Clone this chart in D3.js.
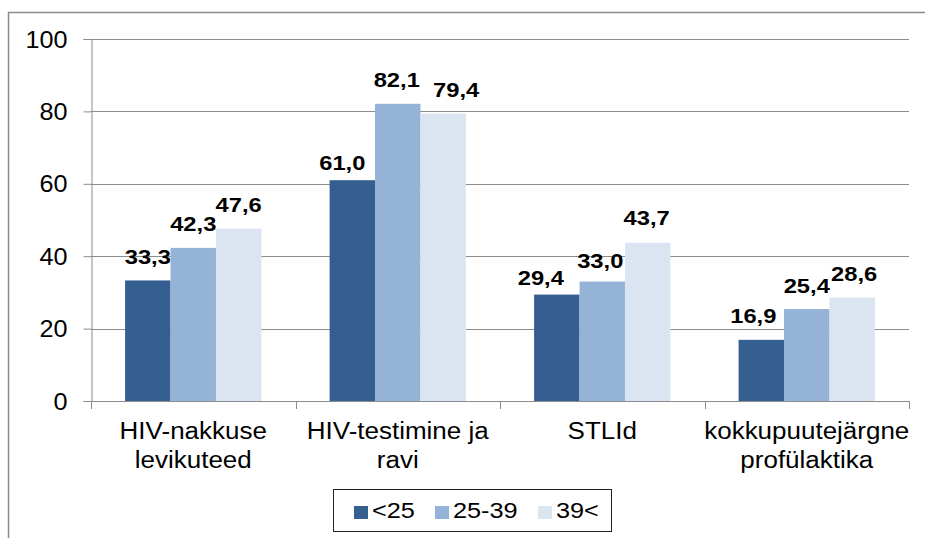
<!DOCTYPE html>
<html><head><meta charset="utf-8">
<script src="https://cdn.jsdelivr.net/npm/d3@7"></script>
<style>
html,body{margin:0;padding:0;background:#fff;}
svg{display:block;font-family:"Liberation Sans",Arial,sans-serif;}
</style></head>
<body><svg id="c" width="925" height="538"></svg>
<script>
const categories = [["HIV-nakkuse","levikuteed"],["HIV-testimine ja","ravi"],["STLId"],["kokkupuutejärgne","profülaktika"]];
const seriesNames = ["<25","25-39","39<"];
const valuesU25 = [33.3, 61.0, 29.4, 16.9];
const values2539 = [42.3, 82.1, 33.0, 25.4];
const values39 = [47.6, 79.4, 43.7, 28.6];
const yTicks = [0,20,40,60,80,100];
const colors = ["#365F91","#95B3D7","#DBE5F1"];
// manual label nudges (as placed in the original chart)
const labelDx = [[0,-10,-16,-8],[0,-1,-2,0],[0,13,-1,2]];
const labelDy = [[0,6,7,0],[0,0,3,0],[0,0,-1,0]];

const series = [valuesU25, values2539, values39];
const svg = d3.select("#c");

// outer border
svg.append("rect").attr("x",8.5).attr("y",12.5).attr("width",940).attr("height",540)
  .attr("fill","none").attr("stroke","#8a8a8a").attr("stroke-width",1.5);

const x0 = 91, x1 = 909, yTop = 39, yBot = 401;
const y = d3.scaleLinear().domain([0,100]).range([yBot,yTop]);
const xb = d3.scaleBand().domain(d3.range(categories.length)).range([x0,x1]).paddingInner(0).paddingOuter(0);
const inner = d3.scaleBand().domain(d3.range(3)).range([xb.bandwidth()/6, xb.bandwidth()*5/6]).padding(0);

// gridlines
svg.append("g").selectAll("line").data(yTicks).join("line")
  .attr("x1",x0).attr("x2",x1).attr("y1",d=>Math.round(y(d))+0.5).attr("y2",d=>Math.round(y(d))+0.5)
  .attr("stroke","#8c8c8c").attr("stroke-width",1);

// y axis
const ya = svg.append("g").attr("transform",`translate(${x0+0.5},0)`)
  .call(d3.axisLeft(y).tickValues(yTicks).tickSize(8).tickPadding(0).tickFormat(d3.format("d")));
ya.select(".domain").attr("stroke","#8c8c8c");
ya.selectAll(".tick line").attr("stroke","#8c8c8c");
ya.selectAll(".tick text").attr("x",null).attr("dy",null)
  .attr("transform","translate(-24,8) scale(1.05,1)")
  .attr("font-size",24).attr("fill","#000").attr("font-family","Liberation Sans, Arial, sans-serif");

// x axis ticks at band boundaries
const bounds = d3.range(categories.length+1).map(i=> i<categories.length ? xb(i) : x1);
svg.append("g").selectAll("line").data(bounds).join("line")
  .attr("x1",d=>Math.round(d)+0.5).attr("x2",d=>Math.round(d)+0.5).attr("y1",yBot).attr("y2",yBot+8)
  .attr("stroke","#8c8c8c");

// bars
const fmt = v => v.toFixed(1).replace(".",",");
series.forEach((vals,si)=>{
  const g = svg.append("g");
  g.selectAll("rect").data(vals).join("rect")
    .attr("x",(d,i)=>xb(i)+inner(si)).attr("width",inner.bandwidth())
    .attr("y",d=>y(d)).attr("height",d=>y(0)-y(d)).attr("fill",colors[si]);
  g.selectAll("text").data(vals).join("text")
    .attr("transform",(d,i)=>`translate(${xb(i)+inner(si)+inner.bandwidth()/2+labelDx[si][i]},${y(d)-16.5+labelDy[si][i]}) scale(1.13,1)`)
    .attr("text-anchor","middle").attr("font-size",21).attr("font-weight","bold").attr("fill","#000")
    .text(fmt);
});

// category labels
categories.forEach((lines,i)=>{
  lines.forEach((l,j)=>{
    svg.append("text").attr("text-anchor","middle").attr("font-size",23).attr("fill","#000")
      .attr("transform",`translate(${xb(i)+xb.bandwidth()/2},${439+j*29}) scale(1.13,1)`)
      .text(l);
  });
});

// legend
const lg = svg.append("g");
lg.append("rect").attr("x",333.5).attr("y",489.5).attr("width",278).attr("height",42)
  .attr("fill","#fff").attr("stroke","#222").attr("stroke-width",1);
const lx = [354,435,538];
seriesNames.forEach((n,i)=>{
  lg.append("rect").attr("x",lx[i]).attr("y",506).attr("width",14).attr("height",13).attr("fill",colors[i]);
  lg.append("text").attr("transform",`translate(${lx[i]+18},518) scale(1.15,1)`)
    .attr("font-size",22).attr("fill","#000").text(n);
});
</script></body></html>
